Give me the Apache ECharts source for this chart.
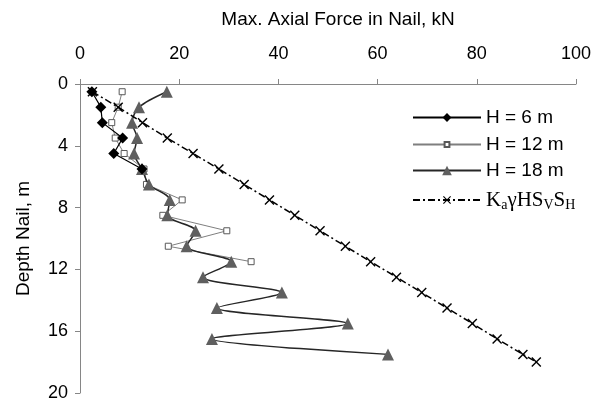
<!DOCTYPE html>
<html>
<head>
<meta charset="utf-8">
<script src="https://cdn.jsdelivr.net/npm/echarts@6/dist/echarts.min.js"></script>
<style>
  html, body { margin: 0; padding: 0; background: #fff; }
  #chart { width: 594px; height: 406px; }
</style>
</head>
<body>
<div id="chart"></div>
<script>
// depth of each nail (m) and max axial force (kN)
const depth6 = [0.5, 1.5, 2.5, 3.5, 4.5, 5.5]
const force6 = [2.4, 4.2, 4.5, 8.6, 6.8, 12.5]

const depth12 = [0.5, 1.5, 2.5, 3.5, 4.5, 5.5, 6.5, 7.5, 8.5, 9.5, 10.5, 11.5]
const force12 = [8.5, 7.7, 6.4, 7.1, 8.9, 12.9, 13.4, 20.6, 16.7, 29.6, 17.8, 34.5]

const depth18 = [0.5, 1.5, 2.5, 3.5, 4.5, 5.5, 6.5, 7.5, 8.5, 9.5, 10.5, 11.5, 12.5, 13.5, 14.5, 15.5, 16.5, 17.5]
const force18 = [17.5, 11.9, 10.5, 11.5, 10.9, 12.5, 13.9, 18.1, 17.6, 23.3, 21.5, 30.5, 24.8, 40.7, 27.6, 54.0, 26.6, 62.1]

const depthKa = [0.5, 1.5, 2.5, 3.5, 4.5, 5.5, 6.5, 7.5, 8.5, 9.5, 10.5, 11.5, 12.5, 13.5, 14.5, 15.5, 16.5, 17.5, 18]
const forceKa = [2.5, 7.7, 12.6, 17.6, 22.8, 28.0, 33.1, 38.2, 43.3, 48.4, 53.5, 58.6, 63.8, 68.9, 74.0, 79.1, 84.1, 89.3, 92.0]

const xTicks = [0, 20, 40, 60, 80, 100]
const yTicks = [0, 4, 8, 12, 16, 20]

const names = ['H = 6 m', 'H = 12 m', 'H = 18 m', 'Ka']

function pairs(xs, ys) {
  return xs.map((x, i) => [x, ys[i]])
}

const font = 'Liberation Sans, Arial, sans-serif'
const serif = 'Liberation Serif, Times New Roman, serif'
const crossSymbol = 'path://M0,1L1,0L5,4L9,0L10,1L6,5L10,9L9,10L5,6L1,10L0,9L4,5Z'

// one legend per row so each marker keeps its own size
function legendRow(name, top, markerSize) {
  return {
    orient: 'vertical',
    left: 407,
    top: top,
    itemWidth: 68,
    itemHeight: markerSize,
    data: [name],
    formatter: function (n) {
      if (n === 'Ka') {
        return '{b|K}{s|a}{b|γHS}{s|V}{b|S}{s|H}'
      }
      return n
    },
    textStyle: {
      fontSize: 19,
      color: '#000',
      fontFamily: font,
      rich: {
        b: { fontSize: 21, fontFamily: serif, color: '#000', lineHeight: 24 },
        s: { fontSize: 14, fontFamily: serif, color: '#000', lineHeight: 24, padding: [10, 0, 0, 0] }
      }
    }
  }
}

const chart = echarts.init(document.getElementById('chart'))
chart.setOption({
  animation: false,
  backgroundColor: '#fff',
  textStyle: { fontFamily: font },
  grid: { left: 80, top: 84, right: 18, bottom: 13 },
  xAxis: {
    type: 'value',
    position: 'top',
    min: xTicks[0],
    max: xTicks[xTicks.length - 1],
    interval: 20,
    name: 'Max. Axial Force in Nail, kN',
    nameLocation: 'middle',
    nameGap: 55,
    nameTextStyle: { fontSize: 19, color: '#000', fontFamily: font, padding: [0, 0, 0, 20] },
    axisLine: { onZero: false, lineStyle: { color: '#868686', width: 1 } },
    axisTick: { show: true, length: 5, lineStyle: { color: '#868686' } },
    axisLabel: { fontSize: 18, color: '#000', margin: 21, fontFamily: font },
    splitLine: { show: false }
  },
  yAxis: {
    type: 'value',
    inverse: true,
    min: yTicks[0],
    max: yTicks[yTicks.length - 1],
    interval: 4,
    name: 'Depth Nail, m',
    nameLocation: 'middle',
    nameGap: 47,
    nameTextStyle: { fontSize: 19, color: '#000', fontFamily: font },
    axisLine: { onZero: false, lineStyle: { color: '#868686', width: 1 } },
    axisTick: { show: true, length: 5, lineStyle: { color: '#868686' } },
    axisLabel: { fontSize: 18, color: '#000', margin: 12, fontFamily: font },
    splitLine: { show: false }
  },
  legend: [
    legendRow(names[0], 103, 11),
    legendRow(names[1], 130, 6),
    legendRow(names[2], 156, 12),
    legendRow(names[3], 183, 10)
  ],
  series: [
    {
      name: 'H = 12 m',
      type: 'line',
      data: pairs(force12, depth12),
      symbol: 'rect',
      symbolSize: 6,
      lineStyle: { color: '#7f7f7f', width: 1 },
      itemStyle: { color: '#fff', borderColor: '#595959', borderWidth: 1 },
      z: 2
    },
    {
      name: 'H = 18 m',
      type: 'line',
      smooth: 0.3,
      data: pairs(force18, depth18),
      symbol: 'triangle',
      symbolSize: 12,
      lineStyle: { color: '#262626', width: 1.5 },
      itemStyle: { color: '#5f5f5f', borderWidth: 0 },
      z: 3
    },
    {
      name: 'H = 6 m',
      type: 'line',
      data: pairs(force6, depth6),
      symbol: 'diamond',
      symbolSize: 11,
      lineStyle: { color: '#000', width: 1.2 },
      itemStyle: { color: '#000', borderWidth: 0 },
      z: 4
    },
    {
      name: 'Ka',
      type: 'line',
      data: pairs(forceKa, depthKa),
      symbol: crossSymbol,
      symbolSize: 10,
      lineStyle: { color: '#000', width: 1.5, type: [7, 3, 2, 3] },
      itemStyle: { color: '#000', borderWidth: 0 },
      z: 5
    }
  ]
})
</script>
</body>
</html>
